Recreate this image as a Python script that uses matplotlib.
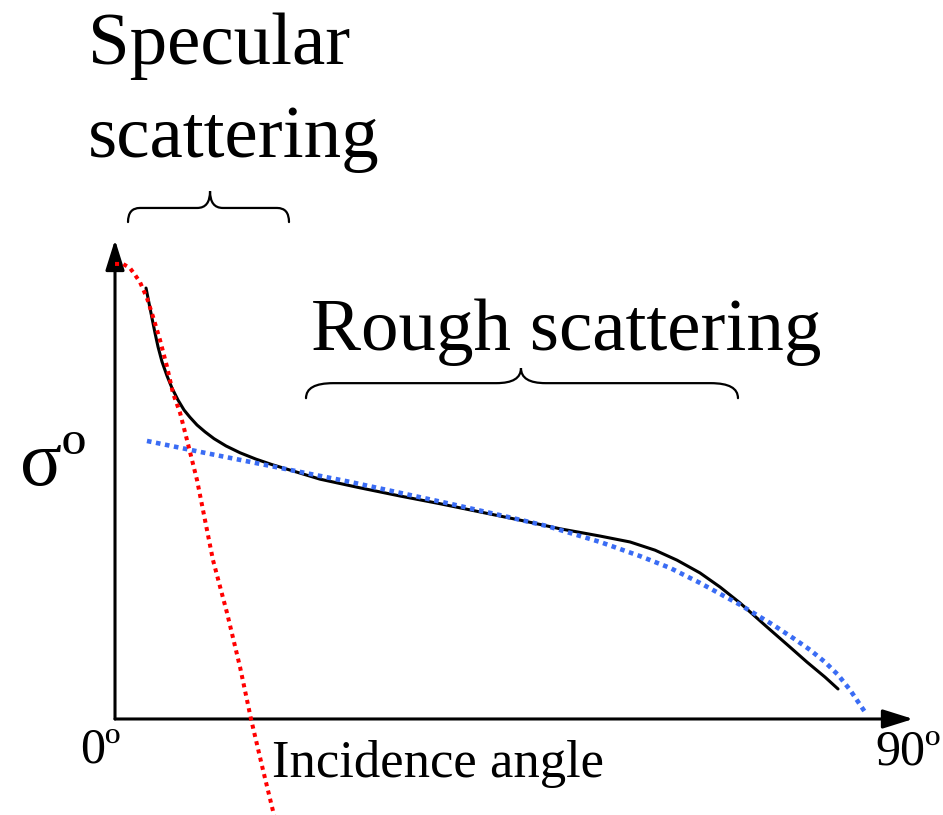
import matplotlib.pyplot as plt
from matplotlib.path import Path
from matplotlib.patches import PathPatch

# measured backscatter (black), rough-surface model (blue), specular model (red)
meas_angle = [3.65, 4.00, 4.35, 4.71, 5.06, 5.53, 6.12, 6.71, 7.41, 8.12, 8.82,
              9.65, 10.59, 11.65, 13.06, 14.71, 16.59, 18.47, 20.59, 24.12,
              28.82, 33.53, 38.24, 42.94, 47.65, 52.35, 57.06, 60.59, 63.53,
              66.12, 68.82, 71.18, 73.53, 76.71, 79.41, 81.41, 83.53, 85.06]
meas_sigma = [9.47, 9.14, 8.81, 8.48, 8.18, 7.85, 7.54, 7.27, 7.01, 6.79, 6.63,
              6.46, 6.31, 6.16, 6.00, 5.85, 5.71, 5.59, 5.47, 5.27,
              5.08, 4.90, 4.73, 4.55, 4.37, 4.18, 4.02, 3.89, 3.71,
              3.49, 3.21, 2.90, 2.55, 2.02, 1.58, 1.25, 0.92, 0.66]

rough_angle = [3.76, 10.0, 15.88, 21.76, 27.65, 33.53, 39.41, 45.29, 50.82,
               57.06, 61.76, 65.29, 68.82, 73.53, 77.41, 79.76, 81.76, 83.53,
               85.06, 86.47, 88.24]
rough_sigma = [6.11, 5.87, 5.65, 5.43, 5.21, 4.97, 4.73, 4.48, 4.24,
               3.89, 3.58, 3.32, 2.99, 2.51, 2.07, 1.78, 1.52, 1.25,
               0.97, 0.64, 0.15]

spec_angle = [0.0, 0.94, 1.76, 2.35, 2.94, 3.76, 4.47, 5.29, 6.12, 6.82,
              7.65, 8.47, 9.65, 11.53, 13.18, 14.71, 16.0, 17.41, 18.82]
spec_sigma = [10.0, 10.0, 9.91, 9.76, 9.60, 9.25, 8.84, 8.33, 7.74, 7.16,
              6.73, 6.13, 5.25, 3.49, 2.33, 1.14, 0.0, -1.12, -2.2]

SERIF = 'Liberation Serif'


def brace(ax, x0, x1, xm, y_end, y_flat, y_tip, r_end, r_tip):
    verts = [(x0, y_end), (x0, y_flat), (x0 + r_end, y_flat),
             (xm - r_tip, y_flat),
             (xm, y_flat), (xm, y_tip),
             (xm, y_flat), (xm + r_tip, y_flat),
             (x1 - r_end, y_flat),
             (x1, y_flat), (x1, y_end)]
    codes = [Path.MOVETO, Path.CURVE3, Path.CURVE3,
             Path.LINETO,
             Path.CURVE3, Path.CURVE3,
             Path.CURVE3, Path.CURVE3,
             Path.LINETO,
             Path.CURVE3, Path.CURVE3]
    ax.add_patch(PathPatch(Path(verts, codes), fill=False, lw=1.6,
                           edgecolor='black', capstyle='round'))


def main():
    fig = plt.figure(figsize=(9.43, 8.15), dpi=100)
    ax = fig.add_axes([0, 0, 1, 1])
    ax.set_xlim(-13.53, 97.41)
    ax.set_ylim(-2.11, 15.80)
    ax.axis('off')

    # axes with arrow heads
    arrow = dict(arrowstyle='-|>,head_length=1.85,head_width=0.58',
                 lw=2.2, color='black', shrinkA=0, shrinkB=0)
    ax.annotate('', xy=(0, 10.53), xytext=(0, 0), arrowprops=arrow)
    ax.annotate('', xy=(93.9, 0), xytext=(0, 0), arrowprops=arrow)

    ax.plot(meas_angle, meas_sigma, color='black', lw=2.2, zorder=3,
            solid_capstyle='round', solid_joinstyle='round')
    ax.plot(rough_angle, rough_sigma, color='#3a6cf4', lw=3.3,
            linestyle=(0, (1, 1)), zorder=4)
    ax.plot(spec_angle, spec_sigma, color='#ff0000', lw=2.9,
            linestyle=(0, (1, 1.1)), zorder=5)

    brace(ax, 1.53, 20.47, 11.18, 10.92, 11.23, 11.60, 1.4, 1.5)
    brace(ax, 22.47, 73.29, 47.76, 7.05, 7.38, 7.71, 3.2, 2.9)

    ax.text(-3.18, 12.35, 'Specular\nscattering', fontsize=54, family=SERIF,
            ha='left', va='baseline', linespacing=1.5)
    ax.text(23.06, 8.11, 'Rough scattering', fontsize=54, family=SERIF,
            ha='left', va='baseline')
    ax.text(-11.2, 5.15, 'σº', fontsize=56, family=SERIF,
            ha='left', va='baseline')
    ax.text(-4.12, -0.95, '0º', fontsize=36, family=SERIF,
            ha='left', va='baseline')
    ax.text(89.4, -0.99, '90º', fontsize=36, family=SERIF,
            ha='left', va='baseline')
    ax.text(18.47, -1.27, 'Incidence angle', fontsize=38, family=SERIF,
            ha='left', va='baseline')

    fig.savefig('out.png', dpi=100)


if __name__ == "__main__":
    main()
